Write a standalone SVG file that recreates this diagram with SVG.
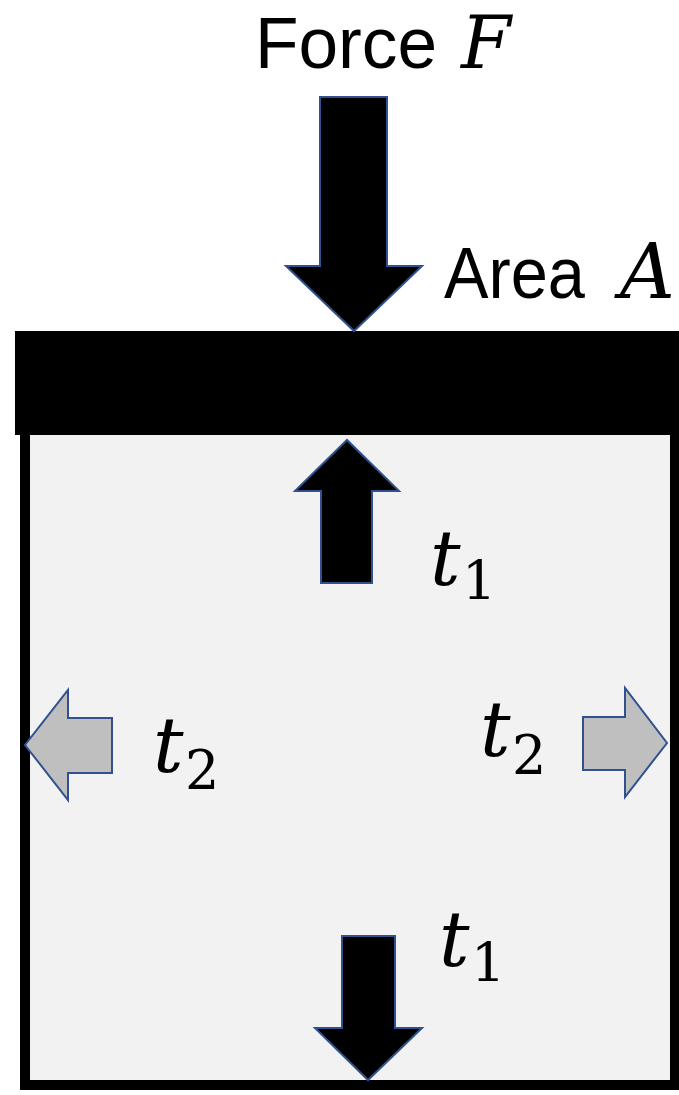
<svg xmlns="http://www.w3.org/2000/svg" width="679" height="1095" viewBox="0 0 679 1095">
<style>
.lbl{font-family:"Liberation Sans",Arial,sans-serif;font-size:72px;fill:#000}
.math{font-family:"DejaVu Serif","Liberation Serif",serif;font-style:italic;font-size:76px;fill:#000}
.mathTop{font-family:"DejaVu Serif","Liberation Serif",serif;font-style:italic;font-size:72px;fill:#000}
.sub{font-family:"DejaVu Serif","Liberation Serif",serif;font-style:normal;font-size:54px;fill:#000}
.arrowDark{fill:#000;stroke:#2f528f;stroke-width:2;stroke-linejoin:miter}
.arrowLight{fill:#bfbfbf;stroke:#2f528f;stroke-width:2;stroke-linejoin:miter}
</style>
<rect width="679" height="1095" fill="#fff"/>
<g id="box">
<rect x="25" y="430" width="650" height="655" fill="#f2f2f2" stroke="#000" stroke-width="10"/>
</g>
<g id="plate">
<rect x="15" y="331" width="664" height="104" fill="#000"/>
</g>
<g id="labels">
<text class="lbl" x="255" y="68" textLength="182" lengthAdjust="spacingAndGlyphs">Force</text>
<text class="mathTop" x="461" y="68">F</text>
<text class="lbl" x="444" y="298" textLength="141" lengthAdjust="spacingAndGlyphs">Area</text>
<text class="math" x="620" y="298">A</text>
</g>
<g id="connectors">
<path id="force-arrow" class="arrowDark" d="M320,97 L387,97 L387,266 L422,266 L354,331 L286,266 L320,266 Z"/>
<path id="t1-up" class="arrowDark" d="M321,583 L372,583 L372,491 L399,491 L347,440 L295,491 L321,491 Z"/>
<path id="t2-left" class="arrowLight" d="M112,718 L112,773 L68,773 L68,800 L25,745 L68,690 L68,718 Z"/>
<path id="t2-right" class="arrowLight" d="M583,717 L583,770 L625,770 L625,797 L667,743 L625,688 L625,717 Z"/>
<path id="t1-down" class="arrowDark" d="M342,936 L395,936 L395,1028 L422,1028 L368,1080 L315,1028 L342,1028 Z"/>
</g>
<g id="t1-top"><text class="math" x="430" y="585">t</text><text class="sub" x="462" y="600">1</text></g>
<g id="t2-left-label"><text class="math" x="153" y="772">t</text><text class="sub" x="185" y="789">2</text></g>
<g id="t2-right-label"><text class="math" x="480" y="756">t</text><text class="sub" x="512" y="774">2</text></g>
<g id="t1-bottom"><text class="math" x="439" y="966">t</text><text class="sub" x="471" y="982">1</text></g>
</svg>
